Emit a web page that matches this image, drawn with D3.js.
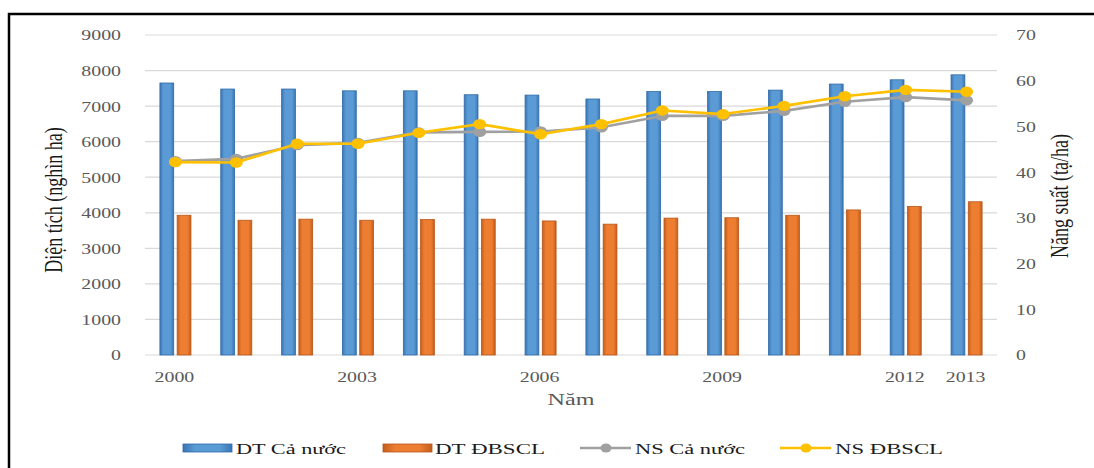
<!DOCTYPE html>
<html>
<head>
<meta charset="utf-8">
<script src="https://cdn.jsdelivr.net/npm/d3@7"></script>
<style>
  body { margin: 0; background: #fff; }
  svg { display: block; }
</style>
</head>
<body>
<div class="chart"></div>
<script>
// data
const years = ['2000','2001','2002','2003','2004','2005','2006','2007','2008','2009','2010','2011','2012','2013'];
const yearLabels = ['2000','2003','2006','2009','2012','2013'];
const dtCaNuoc = [7650, 7480, 7480, 7430, 7430, 7320, 7310, 7200, 7410, 7410, 7450, 7620, 7740, 7880];
const dtDBSCL = [3930, 3790, 3820, 3790, 3810, 3820, 3770, 3680, 3850, 3860, 3930, 4080, 4180, 4310];
const nsCaNuoc = [42.4, 42.9, 45.9, 46.4, 48.7, 48.8, 48.9, 49.8, 52.3, 52.3, 53.4, 55.4, 56.4, 55.7];
const nsDBSCL = [42.2, 42.1, 46.2, 46.2, 48.6, 50.5, 48.3, 50.5, 53.5, 52.7, 54.5, 56.6, 58.0, 57.6];
const leftTicks = [0,1000,2000,3000,4000,5000,6000,7000,8000,9000];
const rightTicks = [0,10,20,30,40,50,60,70];

const width = 1094, height = 468;
const margin = {top: 35, bottom: 113, left: 145, right: 97};
const SX = 1.45; // the picture is stretched sideways
const serif = '"Liberation Serif", "Times New Roman", serif';

const svg = d3.select('.chart')
  .append('svg')
  .attr('width', width)
  .attr('height', height);

// gradients for the bars
const defs = svg.append('defs');
function grad(id, edge, mid) {
  const g = defs.append('linearGradient').attr('id', id)
    .attr('x1', '0%').attr('x2', '100%').attr('y1', '0%').attr('y2', '0%');
  g.append('stop').attr('offset', '0%').attr('stop-color', edge);
  g.append('stop').attr('offset', '25%').attr('stop-color', mid);
  g.append('stop').attr('offset', '75%').attr('stop-color', mid);
  g.append('stop').attr('offset', '100%').attr('stop-color', edge);
}
grad('gBlue', '#3a75b5', '#5b9bd5');
grad('gOrange', '#c45d1a', '#ed7d31');

// outer frame
svg.append('rect')
  .attr('x', 9).attr('y', 14)
  .attr('width', 1200).attr('height', 600)
  .attr('fill', 'none')
  .attr('stroke', '#000')
  .attr('stroke-width', 2.5);

const x0 = d3.scaleBand()
  .domain(years)
  .range([margin.left, width - margin.right])
  .paddingInner(0.49)
  .paddingOuter(0.245);

const x1 = d3.scaleBand()
  .domain(['ca', 'db'])
  .range([0, x0.bandwidth()])
  .paddingInner(0.2);

const yLeft = d3.scaleLinear()
  .domain([0, 9000])
  .range([height - margin.bottom, margin.top]);

const yRight = d3.scaleLinear()
  .domain([0, 70])
  .range([height - margin.bottom, margin.top]);

const cx = d => x0(d) + x0.bandwidth() / 2;

// gridlines
svg.append('g')
  .selectAll('line')
  .data(leftTicks)
  .enter()
  .append('line')
  .attr('x1', margin.left)
  .attr('x2', width - margin.right)
  .attr('y1', d => yLeft(d))
  .attr('y2', d => yLeft(d))
  .attr('stroke', '#d9d9d9')
  .attr('stroke-width', 1.2);

// stretched text helper
function wideText(x, y, txt, opts) {
  const o = opts || {};
  const t = svg.append('text')
    .attr('transform', `translate(${x},${y}) scale(${o.sx || SX},1)` + (o.rot ? ` rotate(${o.rot})` : ''))
    .attr('font-family', o.family || serif)
    .attr('font-size', o.size || 16)
    .attr('fill', o.fill || '#404040')
    .attr('text-anchor', o.anchor || 'start')
    .text(txt);
  if (o.dy) t.attr('dy', o.dy);
  return t;
}

// left axis labels
leftTicks.forEach(d => {
  wideText(121, yLeft(d), d, {anchor: 'end', size: 15.5, sx: 1.28, dy: '0.35em', fill: '#595959'});
});
// right axis labels
rightTicks.forEach(d => {
  wideText(1016, yRight(d), d, {anchor: 'start', size: 15.5, sx: 1.28, dy: '0.35em', fill: '#595959'});
});
// x labels
yearLabels.forEach(d => {
  wideText(cx(d) - 1, 382, d, {anchor: 'middle', size: 15.5, sx: 1.28, fill: '#595959'});
});

// axis titles
wideText(571, 405, 'Năm', {anchor: 'middle', size: 17, sx: 1.42, fill: '#595959'});
wideText(62, 200, 'Diện tích (nghìn ha)', {anchor: 'middle', size: 18, rot: -90, fill: '#1a1a1a'});
wideText(1068, 196, 'Năng suất (tạ/ha)', {anchor: 'middle', size: 18, rot: -90, fill: '#1a1a1a'});

// bars
const barData = years.map((y, i) => ({year: y, ca: dtCaNuoc[i], db: dtDBSCL[i]}));

svg.append('g')
  .selectAll('rect')
  .data(barData)
  .enter()
  .append('rect')
  .attr('x', d => x0(d.year) + x1('ca'))
  .attr('y', d => yLeft(d.ca))
  .attr('width', x1.bandwidth())
  .attr('height', d => yLeft(0) - yLeft(d.ca))
  .attr('fill', 'url(#gBlue)')
  .attr('stroke', '#2f6aa8')
  .attr('stroke-width', 0.8);

svg.append('g')
  .selectAll('rect')
  .data(barData)
  .enter()
  .append('rect')
  .attr('x', d => x0(d.year) + x1('db'))
  .attr('y', d => yLeft(d.db))
  .attr('width', x1.bandwidth())
  .attr('height', d => yLeft(0) - yLeft(d.db))
  .attr('fill', 'url(#gOrange)')
  .attr('stroke', '#b8561a')
  .attr('stroke-width', 0.8);

// lines
const line = d3.line()
  .x(d => cx(d.year))
  .y(d => yRight(d.v));

function drawSeries(vals, color) {
  const pts = years.map((y, i) => ({year: y, v: vals[i]}));
  svg.append('path')
    .datum(pts)
    .attr('fill', 'none')
    .attr('stroke', color)
    .attr('stroke-width', 2.6)
    .attr('stroke-linejoin', 'round')
    .attr('d', line);
  svg.append('g')
    .selectAll('ellipse')
    .data(pts)
    .enter()
    .append('ellipse')
    .attr('cx', d => cx(d.year))
    .attr('cy', d => yRight(d.v))
    .attr('rx', 6.5)
    .attr('ry', 5.2)
    .attr('fill', color);
}
drawSeries(nsCaNuoc, '#a0a0a0');
drawSeries(nsDBSCL, '#ffc000');

// legend
const legend = [
  {name: 'DT Cả nước', type: 'bar', color: 'url(#gBlue)', stroke: '#2f6aa8', x: 183, tx: 236, tw: 110},
  {name: 'DT ĐBSCL', type: 'bar', color: 'url(#gOrange)', stroke: '#b8561a', x: 383, tx: 435, tw: 110},
  {name: 'NS Cả nước', type: 'line', color: '#a0a0a0', x: 580, tx: 635, tw: 110},
  {name: 'NS ĐBSCL', type: 'line', color: '#ffc000', x: 780, tx: 835, tw: 108}
];
const ly = 448;
legend.forEach(l => {
  if (l.type === 'bar') {
    svg.append('rect')
      .attr('x', l.x).attr('y', ly - 4)
      .attr('width', 49).attr('height', 8)
      .attr('fill', l.color)
      .attr('stroke', l.stroke)
      .attr('stroke-width', 0.8);
  } else {
    svg.append('line')
      .attr('x1', l.x).attr('x2', l.x + 51)
      .attr('y1', ly).attr('y2', ly)
      .attr('stroke', l.color)
      .attr('stroke-width', 2.6);
    svg.append('ellipse')
      .attr('cx', l.x + 26).attr('cy', ly)
      .attr('rx', 5.5).attr('ry', 4.5)
      .attr('fill', l.color);
  }
  svg.append('text')
    .attr('x', l.tx)
    .attr('y', ly + 5.5)
    .attr('font-family', serif)
    .attr('font-size', 15.5)
    .attr('fill', '#1a1a1a')
    .attr('textLength', l.tw)
    .attr('lengthAdjust', 'spacingAndGlyphs')
    .text(l.name);
});
</script>
</body>
</html>
